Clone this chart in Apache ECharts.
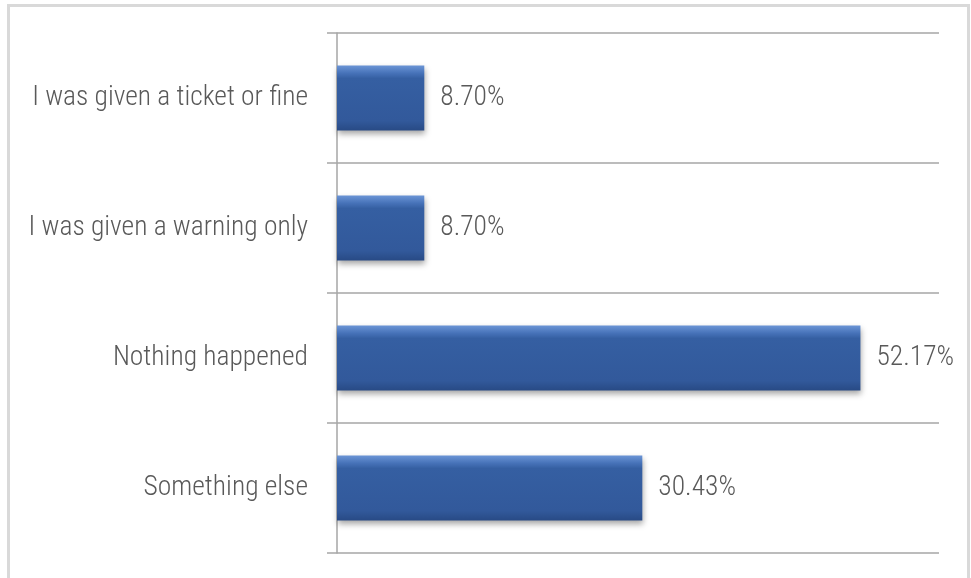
<!DOCTYPE html>
<html>
<head>
<meta charset="utf-8">
<script src="https://cdn.jsdelivr.net/npm/echarts@6/dist/echarts.min.js"></script>
<style>
html,body{margin:0;padding:0;background:#fff;}
#chart{width:971px;height:578px;}
</style>
</head>
<body>
<div id="chart"></div>
<script>
const categories = ["I was given a ticket or fine", "I was given a warning only", "Nothing happened", "Something else"];
const values = [8.70, 8.70, 52.17, 30.43];

const FONT = "'Roboto Condensed', 'Liberation Sans Narrow', 'DejaVu Sans Condensed', 'Noto Sans', sans-serif";
const chart = echarts.init(document.getElementById('chart'), null, {renderer: 'canvas'});
chart.setOption({
  backgroundColor: '#ffffff',
  animation: false,
  graphic: [{
    type: 'rect',
    shape: {x: 8.5, y: 5.5, width: 960, height: 640},
    style: {fill: 'none', stroke: '#d9d9d9', lineWidth: 3},
    silent: true
  }],
  grid: {left: 337, right: 32, top: 33, bottom: 25, containLabel: false},
  xAxis: {
    type: 'value', min: 0, max: 60,
    show: false,
    splitLine: {show: false}
  },
  yAxis: {
    type: 'category',
    data: categories,
    inverse: true,
    axisLine: {show: true, lineStyle: {color: '#a6a6a6', width: 1.5}},
    axisTick: {show: true, length: 10, lineStyle: {color: '#a6a6a6', width: 1.5}},
    splitLine: {show: true, lineStyle: {color: '#a6a6a6', width: 1.5}},
    axisLabel: {
      margin: 29, color: '#595959', fontSize: 27.5, fontWeight: 300, fontFamily: FONT
    }
  },
  series: [{
    type: 'bar',
    data: values,
    barWidth: '50%',
    itemStyle: {
      color: {
        type: 'linear', x: 0, y: 0, x2: 0, y2: 1,
        colorStops: [
          {offset: 0, color: '#6b95d6'},
          {offset: 0.12, color: '#4672b8'},
          {offset: 0.2, color: '#355fa2'},
          {offset: 0.85, color: '#32599b'},
          {offset: 1, color: '#284a85'}
        ]
      },
      shadowColor: 'rgba(0,0,0,0.35)',
      shadowBlur: 6,
      shadowOffsetY: 3,
      shadowOffsetX: 1
    },
    label: {
      show: true,
      position: 'right',
      distance: 16,
      color: '#595959',
      fontSize: 27.5,
      fontWeight: 300,
      fontFamily: FONT,
      formatter: p => p.value.toFixed(2) + '%'
    }
  }]
});
</script>
</body>
</html>
